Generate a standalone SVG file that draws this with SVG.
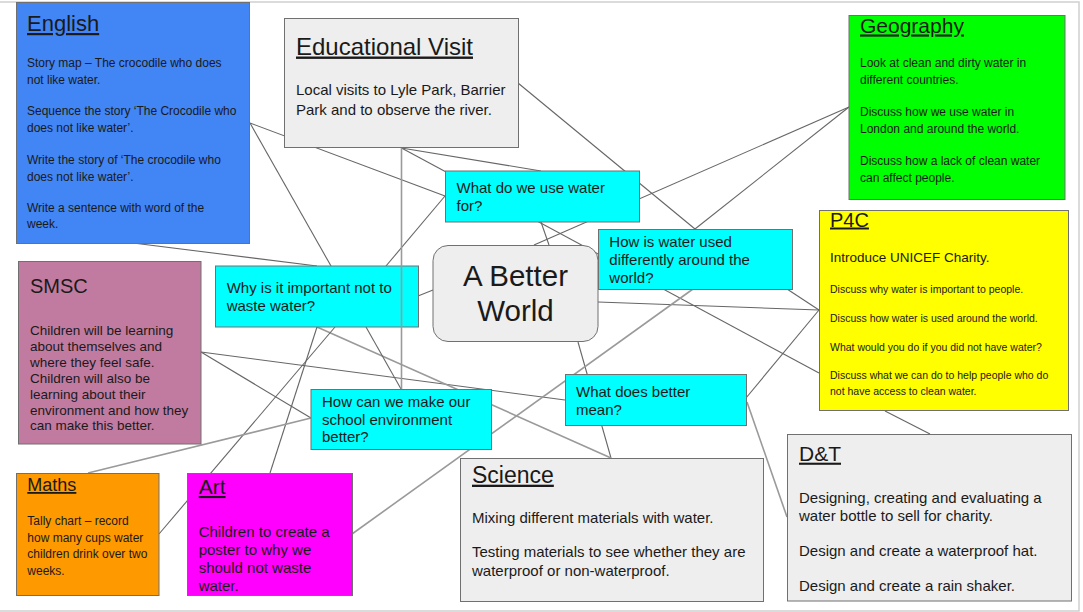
<svg xmlns="http://www.w3.org/2000/svg" width="1083" height="612" viewBox="0 0 1083 612">
<defs>
<style>
.box{stroke:#707070;stroke-width:1}
.t{font-family:"Liberation Sans",Arial,sans-serif;fill:#1a1a1a}
.u{text-decoration:underline}
.c{fill:none;stroke:#666;stroke-width:1.1}
.cl{fill:none;stroke:#9a9a9a;stroke-width:1.6}
.frame{stroke:#d0d0d0;stroke-width:1.5;fill:none}
.s10{font-size:10.5px}
.s12{font-size:12px}
.s13{font-size:13.5px}
.s15{font-size:15px}
.cyan{fill:#00ffff}
.grey{fill:#eeeeee}
</style>
</defs>
<rect width="1083" height="612" fill="#ffffff"/>
<path class="frame" d="M0 2H1079V611H0"/>

<g id="connectors">
<path class="c" d="M250 123L445 196"/>
<path class="c" d="M250 123L331 266"/>
<path class="c" d="M133 243L317 266"/>
<path class="c" d="M401.5 148L819 373"/>
<path class="c" d="M401.5 148L541 171"/>
<path class="c" d="M518 83L695 229"/>
<path class="c" d="M541 222L549 245"/>
<path class="c" d="M445 196L386 266"/>
<path class="c" d="M849 107L534 245"/>
<path class="c" d="M849 107L695 229"/>
<path class="c" d="M418 296L433 290"/>
<path class="c" d="M598 302L819 310"/>
<path class="c" d="M787 289L819 310"/>
<path class="c" d="M746 398L819 310"/>
<path class="c" d="M578 342L611 458"/>
<path class="c" d="M201 352L565 400"/>
<path class="c" d="M201 352L311 418"/>
<path class="cl" d="M317 327L611 458"/>
<path class="c" d="M366 327L401 389"/>
<path class="c" d="M335 327L159 534"/>
<path class="c" d="M317 327L270 473"/>
<path class="cl" d="M311 418L88 473"/>
<path class="cl" d="M693 289L352 534"/>
<path class="cl" d="M747 402L787 517"/>
<path class="c" d="M885 411L930 434"/>
</g>

<g id="english">
<rect class="box" x="16.5" y="2.5" width="233" height="241" fill="#4285f4"/>
<text class="t u" x="27" y="31" font-size="22">English</text>
<g class="t s12">
<text x="27" y="67">Story map – The crocodile who does</text>
<text x="27" y="84">not like water.</text>
<text x="27" y="115">Sequence the story ‘The Crocodile who</text>
<text x="27" y="132">does not like water’.</text>
<text x="27" y="164">Write the story of ‘The crocodile who</text>
<text x="27" y="181">does not like water’.</text>
<text x="27" y="212">Write a sentence with word of the</text>
<text x="27" y="228">week.</text>
</g>
</g>

<g id="educational-visit">
<rect class="box grey" x="284.5" y="18.5" width="234" height="129"/>
<text class="t u" x="296" y="54.5" font-size="24">Educational Visit</text>
<text class="t s15" x="296" y="94.5">Local visits to Lyle Park, Barrier</text>
<text class="t s15" x="296" y="114.5">Park and to observe the river.</text>
</g>

<g id="what-use">
<rect class="box cyan" x="445.5" y="171" width="194" height="51"/>
<text class="t s15" x="456.5" y="193.3">What do we use water</text>
<text class="t s15" x="456.5" y="211">for?</text>
</g>

<g id="geography">
<rect class="box" x="849" y="15.5" width="216" height="184" fill="#00ff00"/>
<text class="t u" x="860" y="32.5" font-size="21">Geography</text>
<g class="t s12">
<text x="860" y="67">Look at clean and dirty water in</text>
<text x="860" y="84">different countries.</text>
<text x="860" y="116">Discuss how we use water in</text>
<text x="860" y="133">London and around the world.</text>
<text x="860" y="165">Discuss how a lack of clean water</text>
<text x="860" y="181.5">can affect people.</text>
</g>
</g>

<g id="p4c">
<rect class="box" x="819.5" y="210.5" width="249" height="200" fill="#ffff00"/>
<text class="t u" x="830" y="226.5" font-size="20">P4C</text>
<text class="t s13" x="830" y="262.3">Introduce UNICEF Charity.</text>
<g class="t s10">
<text x="830" y="293.3">Discuss why water is important to people.</text>
<text x="830" y="322.3">Discuss how water is used around the world.</text>
<text x="830" y="351">What would you do if you did not have water?</text>
<text x="830" y="379.3">Discuss what we can do to help people who do</text>
<text x="830" y="394.7">not have access to clean water.</text>
</g>
</g>

<g id="smsc">
<rect class="box" x="18.5" y="261.5" width="182.5" height="182.5" fill="#c27ba0"/>
<text class="t" x="30" y="293.3" font-size="20">SMSC</text>
<g class="t s13">
<text x="30" y="335">Children will be learning</text>
<text x="30" y="351">about themselves and</text>
<text x="30" y="367">where they feel safe.</text>
<text x="30" y="383">Children will also be</text>
<text x="30" y="399">learning about their</text>
<text x="30" y="414.5">environment and how they</text>
<text x="30" y="430">can make this better.</text>
</g>
</g>

<g id="why-waste">
<rect class="box cyan" x="215.5" y="266" width="203" height="61"/>
<text class="t s15" x="226.7" y="293.3">Why is it important not to</text>
<text class="t s15" x="226.7" y="311">waste water?</text>
</g>

<g id="better-world">
<rect class="box grey" x="433" y="245.5" width="165" height="96" rx="15" ry="15"/>
<text class="t" x="515.5" y="285.7" font-size="29.5" text-anchor="middle">A Better</text>
<text class="t" x="515.5" y="321" font-size="29.5" text-anchor="middle">World</text>
</g>

<g id="how-used">
<rect class="box cyan" x="598.5" y="229.5" width="194" height="60"/>
<text class="t s15" x="609.3" y="246.7">How is water used</text>
<text class="t s15" x="609.3" y="265">differently around the</text>
<text class="t s15" x="609.3" y="282.7">world?</text>
</g>

<g id="school-env">
<rect class="box cyan" x="311" y="389.5" width="180.5" height="60"/>
<text class="t s15" x="322" y="407.3">How can we make our</text>
<text class="t s15" x="322" y="425">school environment</text>
<text class="t s15" x="322" y="442.3">better?</text>
</g>

<g id="better-mean">
<rect class="box cyan" x="565.5" y="374.5" width="181" height="51"/>
<text class="t s15" x="576" y="396.7">What does better</text>
<text class="t s15" x="576" y="415">mean?</text>
</g>

<g id="maths">
<rect class="box" x="16.5" y="473.5" width="142.5" height="122" fill="#ff9900"/>
<text class="t u" x="27.3" y="491" font-size="18">Maths</text>
<g class="t s12">
<text x="27.3" y="525">Tally chart – record</text>
<text x="27.3" y="541.7">how many cups water</text>
<text x="27.3" y="558.3">children drink over two</text>
<text x="27.3" y="575">weeks.</text>
</g>
</g>

<g id="art">
<rect class="box" x="187.5" y="473.5" width="165" height="122" fill="#ff00ff"/>
<text class="t u" x="198.7" y="494" font-size="21">Art</text>
<g class="t s15">
<text x="198.7" y="537.3">Children to create a</text>
<text x="198.7" y="555">poster to why we</text>
<text x="198.7" y="572.7">should not waste</text>
<text x="198.7" y="591">water.</text>
</g>
</g>

<g id="science">
<rect class="box grey" x="460.5" y="458.5" width="303" height="143"/>
<text class="t u" x="472" y="482.7" font-size="23">Science</text>
<g class="t s15">
<text x="472" y="522.7">Mixing different materials with water.</text>
<text x="472" y="557.3">Testing materials to see whether they are</text>
<text x="472" y="575.7">waterproof or non-waterproof.</text>
</g>
</g>

<g id="dt">
<rect class="box grey" x="787.5" y="434.5" width="284" height="166.5"/>
<text class="t u" x="799" y="460.7" font-size="21">D&amp;T</text>
<g class="t s15">
<text x="799" y="503.3">Designing, creating and evaluating a</text>
<text x="799" y="520.7">water bottle to sell for charity.</text>
<text x="799" y="555.7">Design and create a waterproof hat.</text>
<text x="799" y="591">Design and create a rain shaker.</text>
</g>
</g>

<g id="connectors-front">
<path class="cl" d="M401.5 148V389"/>
</g>
</svg>
